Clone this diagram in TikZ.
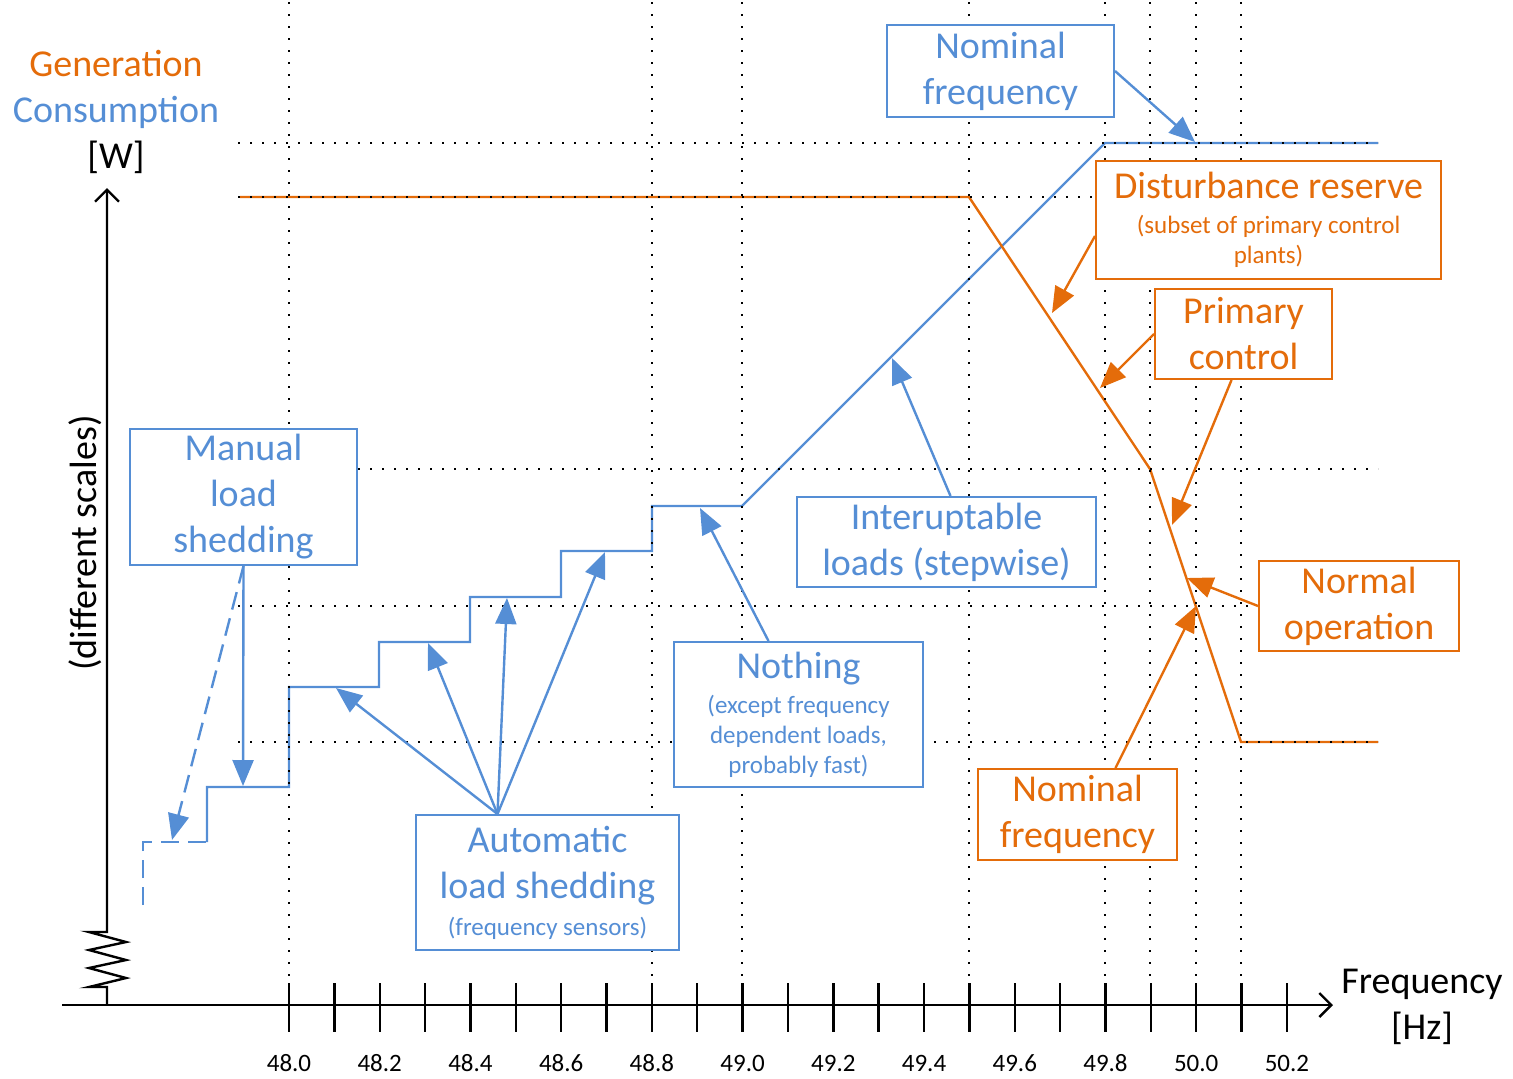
\documentclass[tikz,border=0pt]{standalone}
\usepackage{fontspec}
\setmainfont{Carlito}
\usetikzlibrary{arrows.meta,calc,positioning}
\definecolor{genorange}{RGB}{228,108,10}
\definecolor{conblue}{RGB}{85,142,213}
\newcommand{\bigfont}{\fontsize{19}{23}\selectfont}
\newcommand{\smallfont}{\fontsize{12.5}{15}\selectfont}

\begin{document}
\begin{tikzpicture}[
    x=0.5pt, y=-0.5pt,
    box/.style={rectangle, draw, line width=1pt, fill=white, align=center, inner sep=0pt, font=\bigfont},
    genbox/.style={box, draw=genorange, text=genorange},
    conbox/.style={box, draw=conblue, text=conblue},
    gridline/.style={line width=1.2pt, dash pattern=on 1.2pt off 4.8pt, black},
    curve/.style={line width=1.2pt},
    longdash/.style={dash pattern=on 9pt off 4.5pt},
    pointer/.style={line width=1.2pt, -{Triangle[length=13pt,width=10.5pt]}},
    axis/.style={line width=1.2pt, black}
]
    \useasboundingbox (0,0) rectangle (1513,1078);

    % Consumption curve
    \draw[curve, conblue, longdash] (143,905) -- (143,842) -- (207,842);
    \draw[curve, conblue] (207,842) -- (207,787) -- (289,787) -- (289,687) -- (379,687) -- (379,642)
        -- (470,642) -- (470,597) -- (561,597) -- (561,551) -- (652,551) -- (652,506) -- (742,506)
        -- (1105,143) -- (1378,143);

    % Generation curve
    \draw[curve, genorange] (240,197) -- (969,197) -- (1150,469) -- (1241,742) -- (1378,742);

    % Grid
    \foreach \gx in {289,652,742,969,1105,1150,1196,1241}
        \draw[gridline] (\gx,2) -- (\gx,982);
    \foreach \gy in {143,197,469,606,742}
        \draw[gridline] (238,\gy) -- (1378,\gy);

    % Axes
    \coordinate (origin) at (107,1005);
    \coordinate (xend) at (1333,1005);
    \coordinate (yend) at (107,188);
    \draw[axis, -{Straight Barb[length=6pt,width=12pt]}] (62,1005) -- (xend);
    \draw[axis, -{Straight Barb[length=6pt,width=12pt]}] (origin) -- (107,987) -- (89,987) -- (126,978)
        -- (89,968) -- (126,960) -- (89,950) -- (126,942) -- (89,932) -- (107,932) -- (yend);
    \foreach \k in {0,...,22}
        \draw[axis] ({289+45.36*\k},983) -- ({289+45.36*\k},1032);
    \foreach \lbl [count=\k from 0] in {48.0,48.2,48.4,48.6,48.8,49.0,49.2,49.4,49.6,49.8,50.0,50.2}
        \node[font=\smallfont] (tick\k) at ({289+90.72*\k},1063) {\lbl};

    % Axis labels
    \node[font=\bigfont, align=center] (ylabel) at (116,112)
        {\textcolor{genorange}{Generation}\\\textcolor{conblue}{Consumption}\\{[W]}};
    \node[font=\bigfont, rotate=90] (scales) at (85,543) {(different scales)};
    \node[font=\bigfont, align=center] (xlabel) at (1422,1007) {Frequency\\{[Hz]}};

    % Boxes
    \node[conbox, minimum width=113.5pt, minimum height=46pt] (nomtop) at (1000.5,71) {Nominal\\frequency};
    \node[genbox, minimum width=172.5pt, minimum height=59pt] (dist) at (1268.5,220)
        {Disturbance reserve\\[-5.5pt]{\smallfont (subset of primary control}\\[-8pt]{\smallfont plants)}};
    \node[genbox, minimum width=88.5pt, minimum height=45pt] (prim) at (1243.5,334) {Primary\\control};
    \node[genbox, minimum width=100pt, minimum height=45pt] (normal) at (1359,606) {Normal\\operation};
    \node[genbox, minimum width=99.5pt, minimum height=45.5pt] (nombot) at (1077.5,814.5) {Nominal\\frequency};
    \node[conbox, minimum width=113.5pt, minimum height=68pt] (manual) at (243.5,497) {Manual\\load\\shedding};
    \node[conbox, minimum width=149.5pt, minimum height=45pt] (interup) at (946.5,542) {Interuptable\\loads (stepwise)};
    \node[conbox, minimum width=124.5pt, minimum height=72.5pt] (nothing) at (798.5,714.5)
        {Nothing\\[-5.5pt]{\smallfont (except frequency}\\[-8pt]{\smallfont dependent loads,}\\[-8pt]{\smallfont probably fast)}};
    \node[conbox, minimum width=131.5pt, minimum height=67.5pt] (auto) at (547.5,882.5)
        {Automatic\\load shedding\\[-4.5pt]{\smallfont (frequency sensors)}};

    % Arrow targets
    \coordinate (nfcon) at (1195,142);
    \coordinate (drtip) at (1052,313);
    \coordinate (pctipa) at (1100,388);
    \coordinate (pctipb) at (1172,525);
    \coordinate (notip) at (1187,578);
    \coordinate (nfgen) at (1196,606);
    \coordinate (mltip) at (243,786);
    \coordinate (mltipd) at (172,840);
    \coordinate (iltip) at (892,358);
    \coordinate (nothtip) at (700,508);
    \coordinate (altipa) at (336,688);
    \coordinate (altipb) at (428,643);
    \coordinate (altipc) at (507,598);
    \coordinate (altipd) at (605,552);

    % Arrows
    \draw[pointer, conblue] (nomtop.east) -- (nfcon);
    \draw[pointer, genorange] ([yshift=-8pt]dist.west) -- (drtip);
    \draw[pointer, genorange] (prim.west) -- (pctipa);
    \draw[pointer, genorange] ([xshift=-6pt]prim.south) -- (pctipb);
    \draw[pointer, genorange] (normal.west) -- (notip);
    \draw[pointer, genorange] ([xshift=19pt]nombot.north) -- (nfgen);
    \draw[pointer, conblue] (manual.south) -- (mltip);
    \draw[pointer, conblue, longdash] (manual.south) -- (mltipd);
    \draw[pointer, conblue] ([xshift=2pt]interup.north) -- (iltip);
    \draw[pointer, conblue] ([xshift=-15pt]nothing.north) -- (nothtip);
    \foreach \t in {altipa,altipb,altipc,altipd}
        \draw[pointer, conblue] ([xshift=-25pt]auto.north) -- (\t);
\end{tikzpicture}
\end{document}
